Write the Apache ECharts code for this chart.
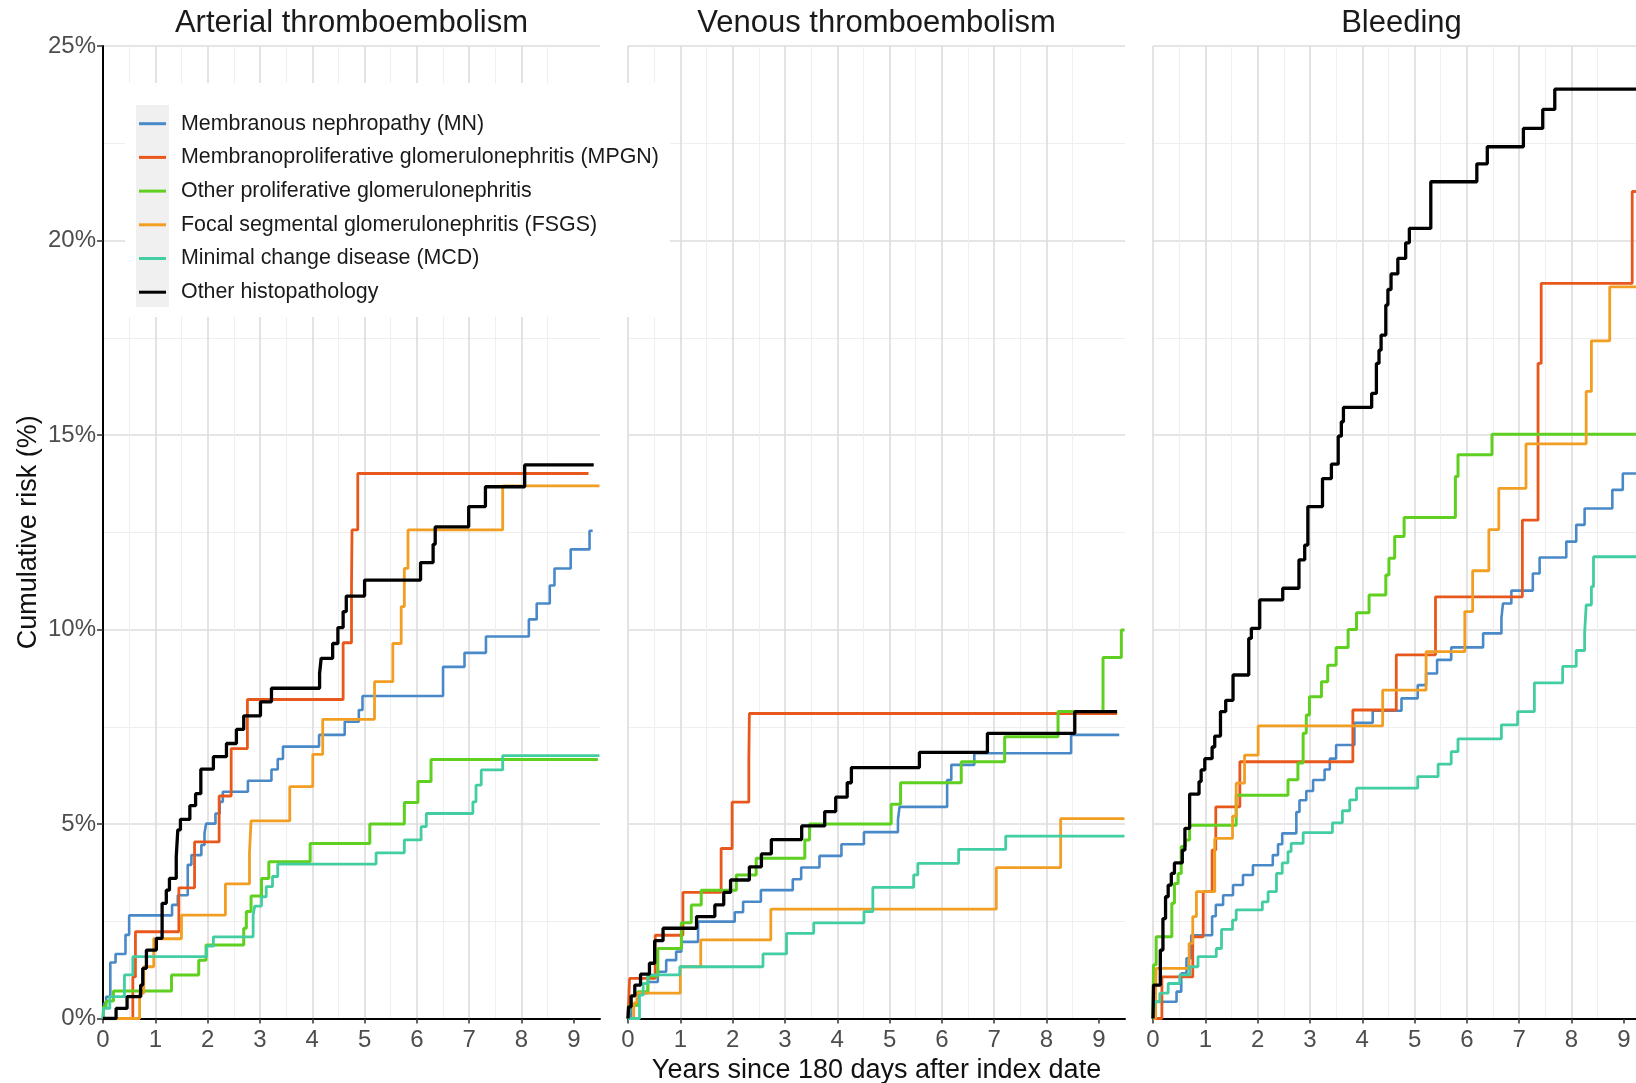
<!DOCTYPE html>
<html><head><meta charset="utf-8">
<script src="https://cdn.jsdelivr.net/npm/echarts@6/dist/echarts.min.js"></script>
<style>html,body{margin:0;padding:0;background:#fff}#c{width:1636px;height:1083px}</style>
</head><body><div id="c"></div>
<script>
const panelTitles = ['Arterial thromboembolism', 'Venous thromboembolism', 'Bleeding'];
const groupNames = [
  'Membranous nephropathy (MN)',
  'Membranoproliferative glomerulonephritis (MPGN)',
  'Other proliferative glomerulonephritis',
  'Focal segmental glomerulonephritis (FSGS)',
  'Minimal change disease (MCD)',
  'Other histopathology'
];
const xAxisTitle = 'Years since 180 days after index date';
const yAxisTitle = 'Cumulative risk (%)';
const xTickValues = [0, 1, 2, 3, 4, 5, 6, 7, 8, 9];
const yTickValues = [0, 5, 10, 15, 20, 25];

// ---- Arterial thromboembolism: [years, cumulative risk %] ----
const arterialMN = [[0,0],[0.02,0.39],[0.06,0.56],[0.14,1.44],[0.24,1.66],[0.43,2.15],[0.50,2.65],[1.32,2.92],[1.43,3.17],[1.62,3.95],[1.69,4.20],[1.88,4.46],[1.94,4.76],[1.97,5.01],[2.15,5.27],[2.23,5.57],[2.29,5.83],[2.77,6.11],[3.22,6.40],[3.34,6.67],[3.44,6.99],[4.13,7.29],[4.62,7.63],[4.89,7.93],[4.96,8.29],[6.50,9.04],[6.91,9.40],[7.32,9.82],[8.14,10.26],[8.29,10.67],[8.54,11.13],[8.63,11.57],[8.94,12.06],[9.30,12.54],[9.36,12.54]];
const arterialMPGN = [[0,0],[0.57,1.07],[0.62,2.23],[1.45,3.36],[1.75,4.54],[2.22,5.72],[2.45,6.94],[2.76,8.20],[4.59,9.66],[4.75,11.10],[4.76,12.56],[4.87,14.01],[9.28,14.01]];
const arterialOPGN = [[0,0],[0.01,0.30],[0.06,0.45],[0.20,0.71],[1.31,1.12],[1.83,1.50],[1.97,1.89],[2.69,2.32],[2.74,2.75],[2.83,3.15],[3.03,3.60],[3.17,4.03],[3.96,4.50],[5.10,5.00],[5.76,5.55],[6.02,6.09],[6.27,6.66],[9.46,6.66]];
const arterialFSGS = [[0,0],[0.70,0.65],[0.78,1.33],[0.97,2.05],[1.50,2.66],[2.34,3.46],[2.80,4.26],[2.83,5.08],[3.57,5.96],[4.01,6.79],[4.20,7.69],[5.19,8.66],[5.54,9.64],[5.70,10.59],[5.76,11.57],[5.83,12.56],[7.64,13.69],[9.49,13.69]];
const arterialMCD = [[0,0],[0.01,0.26],[0.13,0.56],[0.41,1.12],[0.57,1.59],[1.98,1.86],[2.11,2.10],[2.87,2.66],[2.90,2.89],[3.03,3.13],[3.12,3.39],[3.24,3.65],[3.34,3.97],[5.22,4.26],[5.76,4.59],[6.08,4.93],[6.18,5.27],[7.07,5.57],[7.13,6.00],[7.23,6.39],[7.64,6.76],[9.49,6.76]];
const arterialOther = [[0,0],[0.25,0.26],[0.46,0.56],[0.72,0.86],[0.76,1.29],[0.83,1.76],[1.02,2.06],[1.13,2.96],[1.21,3.30],[1.27,3.60],[1.40,4.16],[1.43,4.85],[1.48,5.12],[1.66,5.47],[1.77,5.78],[1.87,6.41],[2.11,6.73],[2.36,7.07],[2.55,7.43],[2.69,7.78],[3.01,8.14],[3.22,8.49],[4.14,8.87],[4.17,9.26],[4.39,9.64],[4.49,10.05],[4.59,10.46],[4.65,10.86],[5.00,11.27],[6.07,11.72],[6.31,12.19],[6.35,12.64],[6.99,13.16],[7.31,13.67],[8.06,14.23],[9.38,14.23]];

// ---- Venous thromboembolism ----
const venousMN = [[0,0],[0.06,0.34],[0.19,0.65],[0.38,0.94],[0.57,1.20],[0.73,1.50],[0.92,1.72],[1.02,1.97],[1.34,2.49],[2.04,2.73],[2.20,3.00],[2.54,3.30],[3.15,3.58],[3.31,3.88],[3.66,4.18],[4.08,4.48],[4.51,4.79],[5.16,5.10],[5.19,5.44],[6.10,6.13],[6.18,6.52],[6.62,6.82],[8.47,7.29],[9.39,7.29]];
const venousMPGN = [[0,0],[0.03,1.03],[0.52,2.14],[1.05,3.24],[1.78,4.37],[1.99,5.56],[2.31,6.66],[2.32,7.84],[9.35,7.84]];
const venousOPGN = [[0,0],[0.03,0.34],[0.19,0.69],[0.38,1.09],[0.57,1.80],[1.02,2.46],[1.21,2.92],[1.40,3.30],[2.07,3.69],[2.45,4.12],[3.38,4.59],[3.47,5.00],[5.03,5.51],[5.21,6.06],[6.37,6.60],[7.20,7.24],[8.22,7.89],[9.08,9.28],[9.43,9.99],[9.49,9.99]];
const venousFSGS = [[0,0],[0.11,0.40],[0.17,0.65],[1.00,1.33],[1.39,2.02],[2.73,2.81],[7.04,3.88],[8.27,5.14],[9.49,5.14]];
const venousMCD = [[0,0],[0.22,0.60],[0.29,0.90],[0.38,1.12],[0.99,1.33],[2.58,1.66],[3.03,2.19],[3.55,2.46],[4.51,2.75],[4.68,3.37],[5.46,3.69],[5.54,3.99],[6.32,4.35],[7.22,4.69],[9.49,4.69]];
const venousOther = [[0,0],[0.01,0.30],[0.06,0.58],[0.13,0.86],[0.24,1.14],[0.41,1.42],[0.51,2.00],[0.67,2.32],[1.31,2.62],[1.66,2.92],[1.83,3.24],[1.96,3.56],[2.32,3.90],[2.55,4.23],[2.74,4.60],[3.32,4.95],[3.76,5.32],[3.97,5.69],[4.19,6.06],[4.27,6.45],[5.57,6.84],[6.87,7.33],[8.54,7.89],[9.35,7.89]];

// ---- Bleeding ----
const bleedingMN = [[0,0],[0.03,0.43],[0.45,0.69],[0.54,1.16],[0.64,1.55],[0.73,2.14],[1.13,2.63],[1.20,2.92],[1.34,3.17],[1.53,3.43],[1.72,3.69],[1.91,3.94],[2.29,4.20],[2.39,4.48],[2.47,4.76],[2.74,5.31],[2.80,5.61],[2.93,5.85],[3.06,6.13],[3.28,6.40],[3.38,6.68],[3.50,7.03],[3.85,7.60],[4.20,7.91],[4.75,8.23],[5.06,8.57],[5.22,8.87],[5.43,9.22],[5.70,9.54],[6.31,9.90],[6.66,10.29],[6.69,10.67],[6.85,11.00],[7.26,11.44],[7.39,11.85],[7.90,12.26],[8.09,12.69],[8.25,13.11],[8.78,13.59],[8.98,14.01],[9.5,14.01]];
const bleedingMPGN = [[0,0],[0.17,1.07],[0.76,2.10],[0.96,3.26],[1.13,4.33],[1.20,5.44],[1.66,6.60],[3.82,7.93],[4.65,9.35],[5.40,10.84],[7.06,12.81],[7.36,16.84],[7.42,18.90],[9.16,21.26],[9.5,21.26]];
const bleedingOPGN = [[0,0],[0.01,1.38],[0.06,2.10],[0.36,2.96],[0.41,3.47],[0.48,3.73],[0.54,4.42],[0.62,4.59],[0.70,4.97],[1.59,5.74],[2.58,6.14],[2.77,6.57],[2.87,7.33],[2.93,7.80],[2.99,8.27],[3.22,8.66],[3.34,9.08],[3.50,9.54],[3.73,10.00],[3.89,10.43],[4.13,10.89],[4.45,11.40],[4.51,11.83],[4.62,12.39],[4.80,12.88],[5.78,13.93],[5.83,14.49],[6.48,15.02],[9.5,15.02]];
const bleedingFSGS = [[0,0],[0.05,0.65],[0.06,1.29],[0.69,1.93],[0.76,2.62],[0.83,3.26],[1.18,4.63],[1.52,5.20],[1.59,6.05],[1.75,6.77],[2.01,7.52],[4.39,8.44],[5.22,9.43],[5.96,10.46],[6.11,11.51],[6.42,12.57],[6.61,13.63],[7.13,14.77],[8.28,16.12],[8.38,17.42],[8.73,18.81],[9.5,18.81]];
const bleedingMCD = [[0,0],[0.03,0.43],[0.13,0.65],[0.29,0.90],[0.51,1.12],[0.70,1.33],[0.86,1.59],[1.21,1.80],[1.31,2.29],[1.52,2.53],[1.59,2.79],[2.09,3.00],[2.20,3.26],[2.36,3.73],[2.47,4.00],[2.58,4.29],[2.64,4.50],[2.87,4.78],[3.43,5.03],[3.62,5.34],[3.76,5.62],[3.89,5.92],[5.06,6.22],[5.45,6.54],[5.70,6.86],[5.83,7.19],[6.66,7.55],[6.97,7.89],[7.29,8.63],[7.83,9.05],[8.09,9.46],[8.25,9.90],[8.28,10.63],[8.38,11.10],[8.42,11.87],[9.5,11.87]];
const bleedingOther = [[0,0],[0.01,0.86],[0.14,1.76],[0.19,2.57],[0.24,3.13],[0.29,3.43],[0.35,3.73],[0.41,4.00],[0.56,4.33],[0.61,4.89],[0.70,5.77],[0.88,6.09],[0.92,6.39],[0.99,6.68],[1.13,6.98],[1.18,7.26],[1.29,7.89],[1.39,8.18],[1.53,8.83],[1.83,9.77],[1.88,10.03],[2.04,10.76],[2.48,11.06],[2.79,11.79],[2.90,12.17],[2.96,13.16],[3.24,13.88],[3.41,14.25],[3.54,14.97],[3.60,15.34],[3.64,15.71],[4.18,16.07],[4.27,16.84],[4.32,17.18],[4.36,17.57],[4.45,18.34],[4.49,18.74],[4.55,19.14],[4.68,19.54],[4.83,19.94],[4.90,20.31],[5.31,21.51],[6.19,21.97],[6.39,22.41],[7.08,22.88],[7.45,23.37],[7.68,23.89],[9.5,23.89]];

const panelData = [
  [arterialMN, arterialMPGN, arterialOPGN, arterialFSGS, arterialMCD, arterialOther],
  [venousMN, venousMPGN, venousOPGN, venousFSGS, venousMCD, venousOther],
  [bleedingMN, bleedingMPGN, bleedingOPGN, bleedingFSGS, bleedingMCD, bleedingOther]
];

const colors = ['#4a89c8', '#e8581c', '#5fd01f', '#f29e22', '#43cda2', '#000000'];
const widths = [2.6, 2.8, 3.0, 2.8, 2.8, 3.3];
const pxPerYear = 497 / 9.5;
const gridLefts = [103, 628, 1153];
// the third panel is cut off by the right edge of the picture
const gridWidths = [497, 497, 1636 - 1153];
const FONT = '"Liberation Sans", Arial, sans-serif';

const chart = echarts.init(document.getElementById('c'), null, {renderer: 'canvas'});

const series = [];
panelData.forEach((panel, p) => {
  panel.forEach((d, g) => {
    series.push({
      type: 'line', name: groupNames[g], xAxisIndex: p, yAxisIndex: p,
      data: d, step: 'end', showSymbol: false, symbol: 'none',
      color: colors[g], lineStyle: {width: widths[g], color: colors[g]},
      silent: true, animation: false
    });
  });
});

const option = {
  animation: false,
  backgroundColor: '#ffffff',
  title: panelTitles.map((t, i) => ({
    text: t, left: gridLefts[i] + 497 / 2, top: 8, textAlign: 'center', padding: 0,
    textStyle: {fontSize: 31, fontWeight: 'normal', color: '#1a1a1a', fontFamily: FONT}
  })),
  grid: gridLefts.map((l, i) => ({
    left: l, top: 46, width: gridWidths[i], height: 972.5,
    containLabel: false, outerBoundsMode: 'none'
  })),
  xAxis: gridLefts.map((l, i) => ({
    type: 'value', gridIndex: i, min: 0, max: +(gridWidths[i] / pxPerYear).toFixed(4), interval: 1,
    axisLine: {show: true, onZero: false, lineStyle: {color: '#000', width: 2}},
    axisTick: {show: true, length: 5, customValues: xTickValues, lineStyle: {color: '#333', width: 1.5}},
    axisLabel: {show: true, customValues: xTickValues, fontSize: 24, color: '#4d4d4d', margin: 10, fontFamily: FONT},
    splitLine: {show: true, showMaxLine: false, lineStyle: {color: '#dcdcdc', width: 1.6}},
    minorTick: {show: false, splitNumber: 2},
    minorSplitLine: {show: true, lineStyle: {color: '#efefef', width: 1}},
    name: i === 1 ? xAxisTitle : '', nameLocation: 'middle', nameGap: 33,
    nameTextStyle: {fontSize: 27, color: '#111', fontFamily: FONT}
  })),
  yAxis: gridLefts.map((l, i) => ({
    type: 'value', gridIndex: i, min: 0, max: 25, interval: 5,
    axisLine: {show: i === 0, onZero: false, lineStyle: {color: '#000', width: 2}},
    axisTick: {show: i === 0, length: 6, customValues: yTickValues, lineStyle: {color: '#333', width: 1.5}},
    axisLabel: {show: i === 0, customValues: yTickValues, formatter: '{value}%', fontSize: 24, color: '#4d4d4d', margin: 7, fontFamily: FONT},
    splitLine: {show: true, lineStyle: {color: '#dcdcdc', width: 1.6}},
    minorTick: {show: false, splitNumber: 2},
    minorSplitLine: {show: true, lineStyle: {color: '#efefef', width: 1}},
    name: i === 0 ? yAxisTitle : '', nameLocation: 'middle', nameGap: 61,
    nameTextStyle: {fontSize: 27, color: '#111', fontFamily: FONT}
  })),
  legend: {
    data: groupNames, orient: 'vertical', left: 139, top: 113, padding: 0,
    itemWidth: 27, itemHeight: 3, icon: 'rect', itemGap: 12.3, selectedMode: false,
    textStyle: {fontSize: 21.4, lineHeight: 21.4, color: '#1a1a1a', fontFamily: FONT, padding: [0, 0, 0, 10]},
    z: 10
  },
  graphic: [
    {type: 'rect', shape: {x: 125, y: 83, width: 545, height: 234}, style: {fill: '#ffffff'}, z: 5, silent: true},
    {type: 'rect', shape: {x: 136, y: 105, width: 33, height: 202}, style: {fill: '#f0f0f0'}, z: 6, silent: true}
  ],
  series: series
};
chart.setOption(option);
</script>
</body></html>
